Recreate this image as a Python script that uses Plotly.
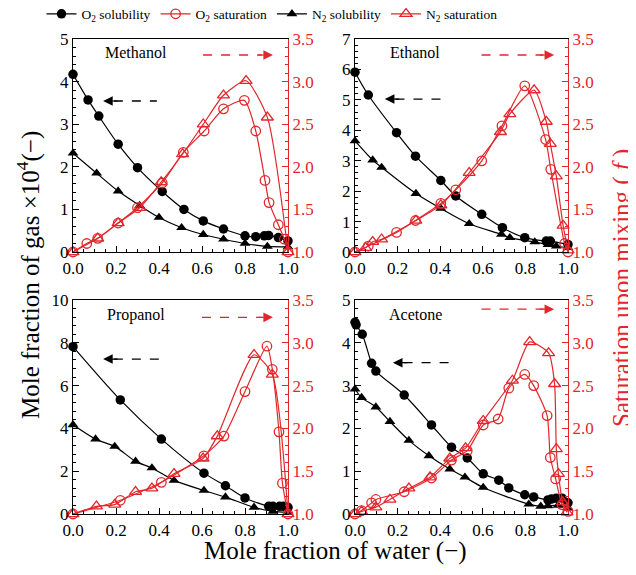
import plotly.graph_objects as go

# ---------------- data ----------------
# Methanol
meth_o2sol_x = [0.0, 0.07, 0.12, 0.21, 0.30, 0.415, 0.516, 0.606, 0.70, 0.80, 0.85, 0.89, 0.91, 0.955, 1.0]
meth_o2sol_y = [4.17, 3.57, 3.19, 2.53, 1.98, 1.42, 1.00, 0.73, 0.54, 0.38, 0.36, 0.38, 0.39, 0.34, 0.26]
meth_n2sol_x = [0.0, 0.11, 0.21, 0.31, 0.40, 0.505, 0.606, 0.70, 0.80, 0.904, 1.0]
meth_n2sol_y = [2.32, 1.85, 1.43, 1.09, 0.81, 0.57, 0.41, 0.30, 0.20, 0.13, 0.12]
meth_o2sat_x = [0.0, 0.064, 0.115, 0.21, 0.30, 0.415, 0.513, 0.61, 0.70, 0.797, 0.85, 0.893, 0.912, 0.955, 0.983, 1.0]
meth_o2sat_y = [1.0, 1.10, 1.16, 1.34, 1.52, 1.81, 2.17, 2.42, 2.68, 2.78, 2.42, 1.84, 1.58, 1.32, 1.15, 1.0]
meth_n2sat_x = [0.0, 0.115, 0.21, 0.31, 0.41, 0.51, 0.606, 0.70, 0.805, 0.904, 1.0]
meth_n2sat_y = [1.0, 1.16, 1.34, 1.52, 1.82, 2.15, 2.50, 2.84, 3.01, 2.58, 1.0]

# Ethanol
eth_o2sol_x = [0.0, 0.0625, 0.195, 0.284, 0.403, 0.473, 0.595, 0.692, 0.797, 0.898, 0.917, 1.0]
eth_o2sol_y = [5.91, 5.16, 3.92, 3.15, 2.35, 1.84, 1.24, 0.80, 0.47, 0.36, 0.36, 0.25]
eth_n2sol_x = [0.0, 0.083, 0.125, 0.286, 0.403, 0.536, 0.6875, 0.727, 0.844, 0.906, 0.945, 1.0]
eth_n2sol_y = [3.65, 3.02, 2.78, 1.92, 1.43, 0.93, 0.58, 0.47, 0.33, 0.24, 0.19, 0.14]
eth_o2sat_x = [0.0, 0.0625, 0.195, 0.284, 0.403, 0.473, 0.595, 0.69, 0.797, 0.895, 0.919, 0.984, 1.0]
eth_o2sat_y = [1.0, 1.07, 1.23, 1.37, 1.57, 1.73, 2.07, 2.48, 2.95, 2.32, 1.97, 1.10, 1.0]
eth_n2sat_x = [0.0, 0.05, 0.083, 0.125, 0.286, 0.403, 0.536, 0.683, 0.727, 0.841, 0.898, 0.917, 0.945, 0.977, 1.0]
eth_n2sat_y = [1.0, 1.05, 1.12, 1.15, 1.37, 1.55, 1.93, 2.41, 2.62, 2.90, 2.53, 2.27, 1.89, 1.31, 1.02]

# Propanol
prop_o2sol_x = [0.0, 0.22, 0.411, 0.609, 0.709, 0.80, 0.91, 0.93, 0.961, 0.98, 1.0]
prop_o2sol_y = [7.82, 5.33, 3.50, 1.91, 1.32, 0.75, 0.36, 0.36, 0.36, 0.36, 0.31]
prop_n2sol_x = [0.0, 0.105, 0.194, 0.291, 0.367, 0.47, 0.609, 0.709, 0.842, 0.93, 1.0]
prop_n2sol_y = [4.17, 3.50, 3.16, 2.46, 2.15, 1.57, 1.10, 0.79, 0.31, 0.12, 0.08]
prop_o2sat_x = [0.0, 0.22, 0.411, 0.609, 0.702, 0.80, 0.902, 0.927, 0.958, 0.974, 1.0]
prop_o2sat_y = [1.0, 1.16, 1.37, 1.68, 1.91, 2.43, 2.96, 2.69, 1.96, 1.36, 1.0]
prop_n2sat_x = [0.0, 0.109, 0.194, 0.291, 0.367, 0.47, 0.605, 0.671, 0.842, 0.927, 1.0]
prop_n2sat_y = [1.0, 1.09, 1.11, 1.26, 1.30, 1.47, 1.65, 1.91, 2.86, 2.63, 1.0]

# Acetone
ace_o2sol_x = [0.0, 0.005, 0.034, 0.078, 0.098, 0.231, 0.359, 0.453, 0.527, 0.602, 0.675, 0.722, 0.797, 0.839, 0.906, 0.922, 0.945, 0.972, 1.0]
ace_o2sol_y = [4.48, 4.42, 4.20, 3.52, 3.34, 2.78, 2.08, 1.56, 1.31, 0.94, 0.79, 0.61, 0.45, 0.40, 0.33, 0.35, 0.37, 0.37, 0.26]
ace_n2sol_x = [0.0, 0.031, 0.098, 0.164, 0.253, 0.347, 0.445, 0.516, 0.602, 0.816, 0.872, 0.906, 0.953, 1.0]
ace_n2sol_y = [2.92, 2.72, 2.50, 2.16, 1.72, 1.36, 1.05, 0.86, 0.62, 0.23, 0.18, 0.19, 0.20, 0.14]
ace_o2sat_x = [0.0, 0.031, 0.078, 0.098, 0.231, 0.359, 0.453, 0.527, 0.602, 0.672, 0.722, 0.797, 0.839, 0.902, 0.917, 0.942, 0.972, 1.0]
ace_o2sat_y = [1.0, 1.04, 1.13, 1.17, 1.26, 1.42, 1.63, 1.74, 2.04, 2.11, 2.47, 2.63, 2.50, 2.15, 1.66, 1.41, 1.11, 1.03]
ace_n2sat_x = [0.0, 0.031, 0.098, 0.164, 0.253, 0.352, 0.445, 0.519, 0.602, 0.739, 0.82, 0.909, 0.937, 0.945, 0.955, 0.975, 0.995]
ace_n2sat_y = [1.0, 1.03, 1.08, 1.17, 1.30, 1.43, 1.65, 1.77, 2.09, 2.56, 3.01, 2.88, 2.52, 1.76, 1.47, 1.14, 1.02]

panel_names = ["Methanol", "Ethanol", "Propanol", "Acetone"]
left_ranges = [[0, 5], [0, 7], [0, 10], [0, 5]]
left_dticks = [1, 1, 2, 1]
right_range = [1.0, 3.5]

panels = [
    (meth_o2sol_x, meth_o2sol_y, meth_o2sat_x, meth_o2sat_y, meth_n2sol_x, meth_n2sol_y, meth_n2sat_x, meth_n2sat_y),
    (eth_o2sol_x, eth_o2sol_y, eth_o2sat_x, eth_o2sat_y, eth_n2sol_x, eth_n2sol_y, eth_n2sat_x, eth_n2sat_y),
    (prop_o2sol_x, prop_o2sol_y, prop_o2sat_x, prop_o2sat_y, prop_n2sol_x, prop_n2sol_y, prop_n2sat_x, prop_n2sat_y),
    (ace_o2sol_x, ace_o2sol_y, ace_o2sat_x, ace_o2sat_y, ace_n2sol_x, ace_n2sol_y, ace_n2sat_x, ace_n2sat_y),
]

# ---------------- style ----------------
W, H = 636, 575
OFF = 8  # page body margin
RED = "#e3262b"
FONT = "Times New Roman, Liberation Serif, Times, serif"

def px(x):
    return (x - OFF) / W

def py(y):
    return 1 - (y - OFF) / H

col_dom = [[px(73), px(288)], [px(355), px(568)]]
row_dom = [[py(252), py(39)], [py(514), py(300)]]

fig = go.Figure()

def ax_id(n):
    return "" if n == 1 else str(n)

for i, p in enumerate(panels):
    k = i + 1
    xa = "x" + ax_id(k)
    yl = "y" + ax_id(2 * k - 1)
    yr = "y" + ax_id(2 * k)
    o2x, o2y, o2sx, o2sy, n2x, n2y, n2sx, n2sy = p
    show = (i == 0)
    common = dict(mode="lines+markers", line_shape="spline", cliponaxis=False, showlegend=show)
    fig.add_trace(go.Scatter(x=o2x, y=o2y, xaxis=xa, yaxis=yl, name="O<sub>2</sub> solubility",
                             line=dict(color="black", width=1.2, smoothing=0.8),
                             marker=dict(symbol="circle", size=9.5, color="black"), legendrank=1, **common))
    fig.add_trace(go.Scatter(x=o2sx, y=o2sy, xaxis=xa, yaxis=yr, name="O<sub>2</sub> saturation",
                             line=dict(color=RED, width=1.2, smoothing=0.6),
                             marker=dict(symbol="circle-open", size=9.5, color=RED, line=dict(width=1.3)), legendrank=2, **common))
    fig.add_trace(go.Scatter(x=n2x, y=n2y, xaxis=xa, yaxis=yl, name="N<sub>2</sub> solubility",
                             line=dict(color="black", width=1.2, smoothing=0.8),
                             marker=dict(symbol="triangle-up", size=9.5, color="black"), legendrank=3, **common))
    fig.add_trace(go.Scatter(x=n2sx, y=n2sy, xaxis=xa, yaxis=yr, name="N<sub>2</sub> saturation",
                             line=dict(color=RED, width=1.2, smoothing=0.6),
                             marker=dict(symbol="triangle-up-open", size=10.5, color=RED, line=dict(width=1.3)), legendrank=4, **common))

    r, c = divmod(i, 2)
    tickfont = dict(family=FONT, size=17, color="black")
    fig.layout["xaxis" + ax_id(k)] = dict(
        domain=col_dom[c], anchor=yl, range=[0, 1.0], dtick=0.2, tickformat=".1f",
        showline=True, linecolor="black", linewidth=1.2, mirror=True, automargin=False,
        ticks="inside", ticklen=6, tickcolor="black",
        minor=dict(dtick=0.05, ticks="inside", ticklen=3, tickcolor="black"),
        showgrid=False, zeroline=False, tickfont=tickfont)
    fig.layout["yaxis" + ax_id(2 * k - 1)] = dict(
        domain=row_dom[r], anchor=xa, range=left_ranges[i], dtick=left_dticks[i],
        showline=True, linecolor="black", linewidth=1.2, automargin=False,
        ticks="inside", ticklen=6, tickcolor="black",
        minor=dict(dtick=left_dticks[i] / 5, ticks="inside", ticklen=3, tickcolor="black"),
        showgrid=False, zeroline=False, tickfont=tickfont)
    fig.layout["yaxis" + ax_id(2 * k)] = dict(
        domain=row_dom[r], anchor=xa, overlaying=yl, side="right", range=right_range, dtick=0.5,
        tickformat=".1f", showline=True, linecolor=RED, linewidth=1.2, automargin=False,
        ticks="inside", ticklen=6, tickcolor=RED,
        minor=dict(dtick=0.1, ticks="inside", ticklen=3, tickcolor=RED),
        showgrid=False, zeroline=False, tickfont=dict(family=FONT, size=17, color=RED))

# panel labels and arrows
label_pos = [(0.14, 0.936), (0.155, 0.936), (0.149, 0.93), (0.149, 0.93)]
black_arrows = [((0.14, 0.39), 0.709), ((0.14, 0.41), 0.718), ((0.14, 0.405), 0.724), ((0.178, 0.446), 0.707)]
red_arrows = [((0.605, 0.93), 0.925), ((0.594, 0.935), 0.925), ((0.60, 0.93), 0.919), ((0.594, 0.935), 0.957)]

for i in range(4):
    k = i + 1
    xd = "x" + ax_id(k) + " domain"
    yd = "y" + ax_id(2 * k - 1) + " domain"
    lx, ly = label_pos[i]
    fig.add_annotation(xref=xd, yref=yd, x=lx, y=ly, text=panel_names[i], showarrow=False,
                       xanchor="left", yanchor="middle", font=dict(family=FONT, size=16, color="black"))
    (bx0, bx1), by = black_arrows[i]
    fig.add_shape(type="line", xref=xd, yref=yd, x0=bx0 + 0.05, x1=bx1, y0=by, y1=by,
                  line=dict(color="black", width=1.3, dash="dash"))
    fig.add_annotation(xref=xd, yref=yd, x=bx0, y=by, ax=16, ay=0, text="", showarrow=True,
                       arrowhead=2, arrowsize=1.6, arrowwidth=1.2, arrowcolor="black", standoff=0)
    (rx0, rx1), ry = red_arrows[i]
    fig.add_shape(type="line", xref=xd, yref=yd, x0=rx0, x1=rx1 - 0.05, y0=ry, y1=ry,
                  line=dict(color=RED, width=1.3, dash="dash"))
    fig.add_annotation(xref=xd, yref=yd, x=rx1, y=ry, ax=-16, ay=0, text="", showarrow=True,
                       arrowhead=2, arrowsize=1.6, arrowwidth=1.2, arrowcolor=RED, standoff=0)

# axis titles
fig.add_annotation(xref="paper", yref="paper", x=px(29), y=py(275), textangle=-90,
                   xanchor="center", yanchor="middle",
                   text="Mole fraction of gas ×10<sup>4</sup>(−)", showarrow=False,
                   font=dict(family=FONT, size=25, color="black"))
fig.add_annotation(xref="paper", yref="paper", x=px(622), y=py(288), textangle=-90,
                   xanchor="center", yanchor="middle",
                   text="Saturation upon mixing ( <i>f</i> )", showarrow=False,
                   font=dict(family=FONT, size=25, color=RED))
fig.add_annotation(xref="paper", yref="paper", x=px(335), y=py(551),
                   xanchor="center", yanchor="middle",
                   text="Mole fraction of water (−)", showarrow=False,
                   font=dict(family=FONT, size=25, color="black"))

fig.update_layout(
    width=W, height=H, margin=dict(l=0, r=0, t=0, b=0, autoexpand=False),
    paper_bgcolor="white", plot_bgcolor="white",
    font=dict(family=FONT, color="black"),
    legend=dict(orientation="h", x=px(272), xanchor="center", y=py(14), yanchor="middle",
                font=dict(family=FONT, size=13.5), bgcolor="rgba(0,0,0,0)", itemwidth=30,
                tracegroupgap=0),
)

fig.write_html("out.html")
